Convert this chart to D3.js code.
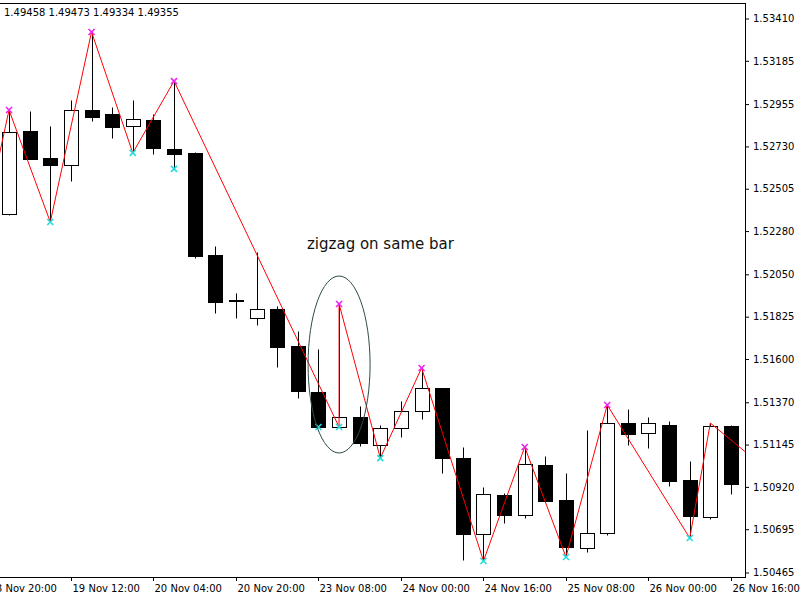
<!DOCTYPE html>
<html>
<head>
<meta charset="utf-8">
<script src="https://cdn.jsdelivr.net/npm/d3@7"></script>
<style>
  html, body { margin: 0; padding: 0; background: #ffffff; }
  svg { display: block; }
  text { font-family: "DejaVu Sans", sans-serif; }
</style>
</head>
<body>
<svg id="chart" width="800" height="600"></svg>
<script>
// ---- data ----
const barIndex = d3.range(0, 36);
const opens  = [1.52373,1.52815,1.52671,1.52634,1.52926,1.52905,1.52841,1.52873,1.52719,1.52698,
                1.52155,1.51916,1.51821,1.51868,1.51672,1.51427,1.51241,1.51294,1.51145,1.51236,
                1.51326,1.51448,1.51076,1.50672,1.50880,1.50773,1.51039,1.50853,1.50598,1.50678,
                1.51262,1.51209,1.51252,1.50959,1.50763,1.51246];
const highs  = [1.52926,1.52921,1.52841,1.52979,1.53341,1.52942,1.52979,1.52905,1.53080,1.52703,
                1.52203,1.51953,1.52171,1.51884,1.51751,1.51656,1.51895,1.51353,1.51252,1.51379,
                1.51555,1.51448,1.51135,1.50922,1.50890,1.51135,1.51087,1.50997,1.51225,1.51358,
                1.51337,1.51294,1.51273,1.51060,1.51262,1.51252];
const lows   = [1.52368,1.52666,1.52331,1.52549,1.52868,1.52777,1.52698,1.52692,1.52613,1.52140,
                1.51847,1.51821,1.51783,1.51560,1.51395,1.51241,1.51241,1.51140,1.51076,1.51188,
                1.51284,1.50997,1.50534,1.50529,1.50731,1.50757,1.50848,1.50550,1.50577,1.50667,
                1.51145,1.51129,1.50927,1.50651,1.50752,1.50885];
const closes = [1.52809,1.52666,1.52634,1.52926,1.52889,1.52836,1.52878,1.52724,1.52692,1.52150,
                1.51906,1.51911,1.51868,1.51666,1.51432,1.51241,1.51294,1.51156,1.51236,1.51326,
                1.51448,1.51076,1.50672,1.50885,1.50773,1.51044,1.50848,1.50603,1.50678,1.51262,
                1.51204,1.51262,1.50954,1.50768,1.51246,1.50938];

// zigzag vertices [bar index, price]
const zigzagBars   = [-1, 0, 2, 4, 6, 8, 16, 16, 18, 20, 23, 25, 27, 29, 33, 34, 37];
const zigzagPrices = [1.52421,1.52926,1.52331,1.53341,1.52698,1.53080,1.51241,1.51895,1.51076,
                      1.51555,1.50529,1.51135,1.50550,1.51358,1.50651,1.51262,1.50991];

const highMarkBars = [0, 4, 8, 16, 20, 25, 29];
const lowMarkBars  = [2, 6, 8, 15, 16, 18, 23, 27, 33];

const priceTicks = [1.53410,1.53185,1.52955,1.52730,1.52505,1.52280,1.52050,
                    1.51825,1.51600,1.51370,1.51145,1.50920,1.50695,1.50465];
const timeTickBars   = [-1, 3, 7, 11, 15, 19, 23, 27, 31, 35];
const timeTickLabels = ["18 Nov 20:00","19 Nov 12:00","20 Nov 04:00","20 Nov 20:00","23 Nov 08:00",
                        "24 Nov 00:00","24 Nov 16:00","25 Nov 08:00","26 Nov 00:00","26 Nov 16:00"];

const ohlcText = "1.49458 1.49473 1.49334 1.49355";
const noteText = "zigzag on same bar";

// ---- layout ----
const svg = d3.select("#chart");
const plotRight = 745, plotTop = 4, plotBottom = 577;

const x = d3.scaleLinear().domain([-1, 35]).range([-11.6, 731]);
const y = d3.scaleLinear().domain([1.50465, 1.53410]).range([573, 19]);
const cx = i => Math.round(x(i)) + 0.5;
const cy = v => Math.round(y(v)) + 0.5;

svg.append("defs").append("clipPath").attr("id", "plotclip")
  .append("rect").attr("x", 0).attr("y", plotTop).attr("width", plotRight).attr("height", plotBottom - plotTop);

const plot = svg.append("g").attr("clip-path", "url(#plotclip)");

// candles
const bars = barIndex.map(i => ({i, o: opens[i], h: highs[i], l: lows[i], c: closes[i]}));
const cg = plot.append("g");
cg.selectAll("line.wick").data(bars).join("line")
  .attr("class", "wick")
  .attr("x1", d => cx(d.i)).attr("x2", d => cx(d.i))
  .attr("y1", d => cy(d.h)).attr("y2", d => cy(d.l))
  .attr("stroke", "#000").attr("stroke-width", 1);
cg.selectAll("rect.body").data(bars).join("rect")
  .attr("class", "body")
  .attr("x", d => cx(d.i) - 7)
  .attr("width", 14)
  .attr("y", d => cy(Math.max(d.o, d.c)))
  .attr("height", d => Math.max(1, cy(Math.min(d.o, d.c)) - cy(Math.max(d.o, d.c))))
  .attr("fill", d => d.c > d.o ? "#ffffff" : "#000000")
  .attr("stroke", "#000").attr("stroke-width", 1);

// zigzag line
const zz = zigzagBars.map((b, k) => [x(b), y(zigzagPrices[k])]);
plot.append("path")
  .attr("d", d3.line()(zz))
  .attr("fill", "none").attr("stroke", "#ff0000").attr("stroke-width", 1);

// markers
function drawX(g, px, py, color) {
  const s = 3;
  g.append("path")
    .attr("d", `M${px - s},${py - s}L${px + s},${py + s}M${px - s},${py + s}L${px + s},${py - s}`)
    .attr("stroke", color).attr("stroke-width", 1.6).attr("fill", "none");
}
const mg = plot.append("g");
highMarkBars.forEach(b => drawX(mg, x(b), y(highs[b]), "#ee22ee"));
lowMarkBars.forEach(b => drawX(mg, x(b), y(lows[b]), "#22dddd"));

// annotation ellipse + text
svg.append("ellipse")
  .attr("cx", x(16)).attr("cy", 364.5).attr("rx", 31).attr("ry", 88.5)
  .attr("fill", "none").attr("stroke", "#2f4a4a").attr("stroke-width", 1);
svg.append("text")
  .attr("x", 307).attr("y", 249)
  .attr("font-family", "'Liberation Sans', Arial, sans-serif")
  .attr("font-size", 15).attr("fill", "#111")
  .text(noteText);

// frame
svg.append("line").attr("x1", 0).attr("x2", plotRight + 0.5).attr("y1", plotTop - 0.5).attr("y2", plotTop - 0.5)
  .attr("stroke", "#000");
svg.append("line").attr("x1", plotRight + 0.5).attr("x2", plotRight + 0.5).attr("y1", plotTop - 1).attr("y2", plotBottom + 0.5)
  .attr("stroke", "#000");
svg.append("line").attr("x1", 0).attr("x2", plotRight + 1).attr("y1", plotBottom + 0.5).attr("y2", plotBottom + 0.5)
  .attr("stroke", "#000");

// right price axis
const ya = svg.append("g").attr("transform", `translate(${plotRight + 1},0)`)
  .call(d3.axisRight(y).tickValues(priceTicks).tickFormat(d3.format(".5f")).tickSize(3).tickPadding(4).offset(0));
ya.select(".domain").remove();
ya.selectAll("text").attr("font-family", "'DejaVu Sans', sans-serif").attr("font-size", 10).attr("fill", "#000");
ya.selectAll("line").attr("stroke", "#000");

// bottom time axis
const xg = svg.append("g");
timeTickBars.forEach((b, k) => {
  const tx = cx(b);
  xg.append("line").attr("x1", tx).attr("x2", tx).attr("y1", plotBottom + 1).attr("y2", plotBottom + 4)
    .attr("stroke", "#000");
  xg.append("text").attr("x", tx + 1).attr("y", 592)
    .attr("font-size", 10).attr("fill", "#000").text(timeTickLabels[k]);
});

// top-left OHLC text
svg.append("text").attr("x", 4).attr("y", 16).attr("font-size", 10).attr("fill", "#000").text(ohlcText);
</script>
</body>
</html>
